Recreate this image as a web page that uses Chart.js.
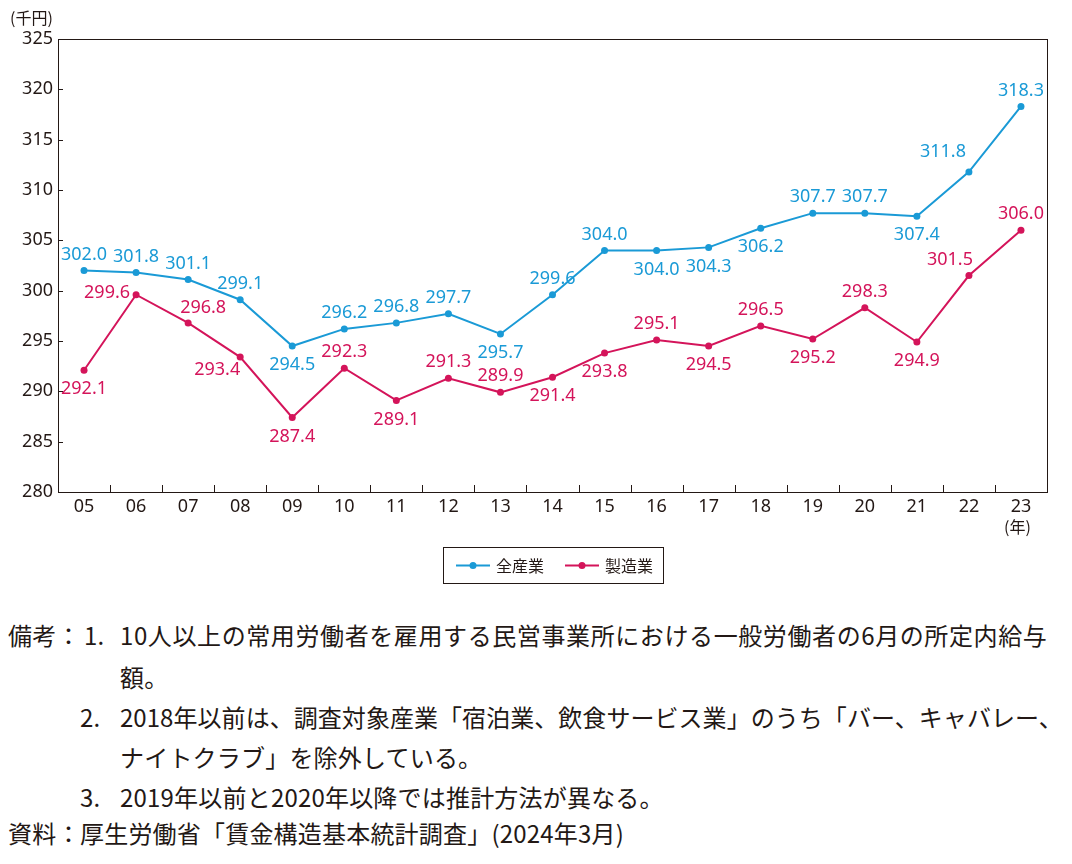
<!DOCTYPE html>
<html lang="ja">
<head>
<meta charset="utf-8">
<script src="https://cdn.jsdelivr.net/npm/chart.js@4.4.1/dist/chart.umd.min.js"></script>
<style>
  html, body { margin:0; padding:0; background:#fff; }
  body { width:1072px; height:864px; position:relative; overflow:hidden;
         font-family:'Noto Sans CJK JP','Noto Sans',sans-serif; color:#231815; }
  #wrap { position:absolute; left:0; top:0; width:1072px; height:600px; }
  .note { position:absolute; font-size:24px; line-height:28px; white-space:nowrap; letter-spacing:0.2px; }
</style>
</head>
<body>
<div id="wrap"><canvas id="c" width="1072" height="600"></canvas></div>
<div class="note" style="left:8px;top:621px;">備考：</div>
<div class="note" style="left:84px;top:621px;">1.</div>
<div class="note" style="left:120px;top:621px;letter-spacing:0.6px;">10人以上の常用労働者を雇用する民営事業所における一般労働者の6月の所定内給与</div>
<div class="note" style="left:120px;top:663px;">額。</div>
<div class="note" style="left:80px;top:703px;">2.</div>
<div class="note" style="left:120px;top:703px;letter-spacing:0.05px;">2018年以前は、調査対象産業「宿泊業、飲食サービス業」のうち「バー、キャバレー、</div>
<div class="note" style="left:120px;top:743px;">ナイトクラブ」を除外している。</div>
<div class="note" style="left:80px;top:783px;">3.</div>
<div class="note" style="left:120px;top:783px;">2019年以前と2020年以降では推計方法が異なる。</div>
<div class="note" style="left:8px;top:819px;">資料：</div>
<div class="note" style="left:80px;top:819px;">厚生労働省「賃金構造基本統計調査」(2024年3月)</div>

<script>
const categories = ['05','06','07','08','09','10','11','12','13','14','15','16','17','18','19','20','21','22','23'];
const allIndustries = [302.0, 301.8, 301.1, 299.1, 294.5, 296.2, 296.8, 297.7, 295.7, 299.6, 304.0, 304.0, 304.3, 306.2, 307.7, 307.7, 307.4, 311.8, 318.3];
const manufacturing = [292.1, 299.6, 296.8, 293.4, 287.4, 292.3, 289.1, 291.3, 289.9, 291.4, 293.8, 295.1, 294.5, 296.5, 295.2, 298.3, 294.9, 301.5, 306.0];
const yTicks = [280, 285, 290, 295, 300, 305, 310, 315, 320, 325];
const seriesNames = ['全産業', '製造業'];

const BLUE = '#1a9ad6';
const MAG = '#d4145a';
const FONT = "'Noto Sans','Noto Sans CJK JP',sans-serif";

// label placement codes (styling)
const labelPos = [
  ['t','t','t','t','b','t','t','t','b','t','t','b','b','b','t','t','b','tl','t'],
  ['b','l','tr','bl','b','t','b','t','t','b','b','t','b','t','b','t','b','tl2','t']
];
const OFF = { t:[0,-16], b:[0,19], tl:[-26,-20], tl2:[-19,-16], l:[-29,-2], tr:[15,-15], bl:[-23,13] };

const decor = {
  id: 'decor',
  afterDraw(chart) {
    const ctx = chart.ctx;
    const a = chart.chartArea;
    const xs = chart.scales.x, ys = chart.scales.y;
    ctx.save();
    ctx.strokeStyle = '#231815';
    ctx.lineWidth = 1;
    ctx.strokeRect(Math.round(a.left)+0.5, Math.round(a.top)+0.5, Math.round(a.right-a.left), Math.round(a.bottom-a.top));
    ctx.beginPath();
    yTicks.forEach(v => {
      const y = Math.round(ys.getPixelForValue(v)) + 0.5;
      ctx.moveTo(a.left, y); ctx.lineTo(a.left + 5, y);
    });
    for (let i = 1; i < categories.length; i++) {
      const x = Math.round((xs.getPixelForValue(i-1) + xs.getPixelForValue(i)) / 2) + 0.5;
      ctx.moveTo(x, a.bottom); ctx.lineTo(x, a.bottom - 7);
    }
    ctx.stroke();

    ctx.fillStyle = '#231815';
    ctx.font = "16px 'Noto Sans CJK JP'";
    ctx.textAlign = 'left'; ctx.textBaseline = 'middle';
    ctx.fillText('(千円)', 10, 18);
    ctx.fillText('(年)', 1004, 527);

    ctx.font = '18px ' + FONT;
    ctx.textAlign = 'center'; ctx.textBaseline = 'middle';
    chart.data.datasets.forEach((ds, di) => {
      const meta = chart.getDatasetMeta(di);
      ctx.fillStyle = ds.borderColor;
      meta.data.forEach((pt, i) => {
        const o = OFF[labelPos[di][i]];
        ctx.fillText(ds.data[i].toFixed(1), pt.x + o[0], pt.y + o[1]);
      });
    });

    const lx = 443, ly = 547, lw = 220, lh = 36;
    ctx.strokeStyle = '#231815';
    ctx.lineWidth = 1;
    ctx.strokeRect(lx + 0.5, ly + 0.5, lw, lh);
    const cy = ly + lh/2 + 0.5;
    const items = [456, 565];
    chart.data.datasets.forEach((ds, di) => {
      const x0 = items[di];
      ctx.strokeStyle = ds.borderColor; ctx.fillStyle = ds.borderColor; ctx.lineWidth = 2;
      ctx.beginPath(); ctx.moveTo(x0, cy); ctx.lineTo(x0 + 34, cy); ctx.stroke();
      ctx.beginPath(); ctx.arc(x0 + 17, cy, 3.5, 0, Math.PI*2); ctx.fill();
      ctx.fillStyle = '#231815';
      ctx.font = "16px 'Noto Sans CJK JP'";
      ctx.textAlign = 'left';
      ctx.fillText(ds.label, x0 + 40, cy);
    });
    ctx.restore();
  }
};

new Chart(document.getElementById('c'), {
  type: 'line',
  data: {
    labels: categories,
    datasets: [
      { label: seriesNames[0], data: allIndustries, borderColor: BLUE, backgroundColor: BLUE,
        borderWidth: 2, pointRadius: 3.5, pointBackgroundColor: BLUE, pointBorderWidth: 0, tension: 0 },
      { label: seriesNames[1], data: manufacturing, borderColor: MAG, backgroundColor: MAG,
        borderWidth: 2, pointRadius: 3.5, pointBackgroundColor: MAG, pointBorderWidth: 0, tension: 0 }
    ]
  },
  options: {
    responsive: false,
    animation: false,
    devicePixelRatio: 1,
    layout: { padding: { top: 39, right: 25, bottom: 0, left: 0 } },
    plugins: { legend: { display: false }, tooltip: { enabled: false } },
    scales: {
      x: {
        offset: true,
        grid: { display: false, drawTicks: false },
        border: { display: false },
        ticks: { color: '#231815', font: { size: 18, family: FONT }, padding: 4, maxRotation: 0 },
        afterFit(s) { s.height = 108; }
      },
      y: {
        min: 280, max: 325,
        grid: { display: false, drawTicks: false },
        border: { display: false },
        afterBuildTicks(s) { s.ticks = yTicks.map(v => ({ value: v })); },
        ticks: { color: '#231815', font: { size: 18, family: FONT }, padding: 5 },
        afterFit(s) { s.width = 58; }
      }
    }
  },
  plugins: [decor]
});
</script>
</body>
</html>
